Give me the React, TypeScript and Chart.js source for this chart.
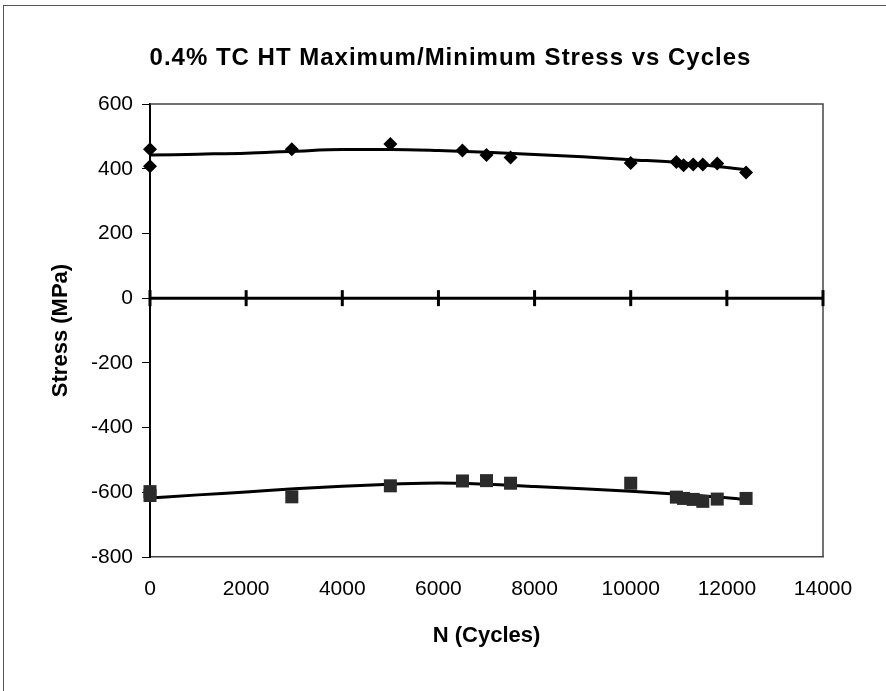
import React, { useEffect, useRef } from 'react';
import { Chart, registerables } from 'chart.js';

Chart.register(...registerables);

const TITLE = '0.4% TC HT Maximum/Minimum Stress vs Cycles';
const X_TITLE = 'N (Cycles)';
const Y_TITLE = 'Stress (MPa)';

const xTicks = [0, 2000, 4000, 6000, 8000, 10000, 12000, 14000];
const yTicks = [-800, -600, -400, -200, 0, 200, 400, 600];

// Maximum stress (diamonds)
const maxN = [0, 0, 2950, 5000, 6500, 7000, 7500, 10000, 10950, 11100, 11300, 11500, 11800, 12400];
const maxStress = [460, 408, 460, 476, 456, 442, 435, 418, 421, 411, 413, 413, 416, 388];

// Minimum stress (squares)
const minN = [0, 0, 2950, 5000, 6500, 7000, 7500, 10000, 10950, 11100, 11300, 11500, 11800, 12400];
const minStress = [-598, -610, -614, -580, -565, -564, -572, -572, -615, -619, -622, -628, -621, -619];

// Trend lines
const trendN = [0, 1000, 2000, 3000, 4000, 5000, 6000, 7000, 8000, 9000, 10000, 11000, 12000, 12400];
const maxTrend = [442, 445, 448, 454, 459, 459, 456, 451, 444, 437, 428, 419, 404, 397];
const minTrend = [-618, -608, -599, -589, -581, -575, -571, -575, -582, -589, -597, -606, -617, -623];

const FONT = '"Liberation Sans", Arial, Helvetica, sans-serif';

const toPts = (xs: number[], ys: number[]) => xs.map((x, i) => ({ x, y: ys[i] }));

const decorPlugin = {
  id: 'decor',
  beforeDatasetsDraw(chart: any) {
    const { ctx, chartArea: a, scales } = chart;
    const x = scales.x;
    const y = scales.y;
    ctx.save();
    // top & right plot border
    ctx.strokeStyle = '#444';
    ctx.lineWidth = 1.5;
    ctx.beginPath();
    ctx.moveTo(a.left, a.top);
    ctx.lineTo(a.right, a.top);
    ctx.lineTo(a.right, a.bottom);
    ctx.stroke();
    // zero axis with crossing tick marks
    const y0 = y.getPixelForValue(0);
    ctx.strokeStyle = '#000';
    ctx.lineWidth = 3;
    ctx.beginPath();
    ctx.moveTo(x.getPixelForValue(xTicks[0]), y0);
    ctx.lineTo(x.getPixelForValue(xTicks[xTicks.length - 1]), y0);
    ctx.stroke();
    for (const t of xTicks) {
      const px = x.getPixelForValue(t);
      ctx.beginPath();
      ctx.moveTo(px, y0 - 8);
      ctx.lineTo(px, y0 + 8);
      ctx.stroke();
    }
    ctx.restore();
  },
  afterDraw(chart: any) {
    const { ctx, chartArea: a } = chart;
    ctx.save();
    ctx.fillStyle = '#000';
    ctx.font = 'bold 24px ' + FONT;
    (ctx as any).letterSpacing = '1px';
    ctx.textAlign = 'center';
    ctx.textBaseline = 'alphabetic';
    ctx.fillText(TITLE, (a.left + a.right) / 2 - 36, 65);
    ctx.restore();
  },
};

export default function App() {
  const canvasRef = useRef<HTMLCanvasElement | null>(null);

  useEffect(() => {
    const canvas = canvasRef.current;
    if (!canvas) return;
    const chart = new Chart(canvas, {
      type: 'scatter',
      data: {
        datasets: [
          {
            label: 'Maximum',
            data: toPts(maxN, maxStress),
            pointStyle: 'rectRot',
            pointRadius: 7,
            pointBackgroundColor: '#000',
            pointBorderColor: '#000',
            pointBorderWidth: 0,
            showLine: false,
            clip: false,
          },
          {
            label: 'Minimum',
            data: toPts(minN, minStress),
            pointStyle: 'rect',
            pointRadius: 9.2,
            pointBackgroundColor: '#2b2b2b',
            pointBorderColor: '#2b2b2b',
            pointBorderWidth: 0,
            showLine: false,
            clip: false,
          },
          {
            label: 'Max trend',
            data: toPts(trendN, maxTrend),
            showLine: true,
            borderColor: '#000',
            borderWidth: 3,
            pointRadius: 0,
            tension: 0.4,
            cubicInterpolationMode: 'monotone',
            clip: false,
          },
          {
            label: 'Min trend',
            data: toPts(trendN, minTrend),
            showLine: true,
            borderColor: '#000',
            borderWidth: 3,
            pointRadius: 0,
            tension: 0.4,
            cubicInterpolationMode: 'monotone',
            clip: false,
          },
        ],
      } as any,
      options: {
        animation: false,
        responsive: false,
        maintainAspectRatio: false,
        layout: { padding: { top: 104, right: 63, bottom: 0, left: 0 } },
        plugins: {
          legend: { display: false },
          title: { display: false },
          tooltip: { enabled: false },
        },
        scales: {
          x: {
            type: 'linear',
            min: xTicks[0],
            max: xTicks[xTicks.length - 1],
            afterBuildTicks: (s: any) => {
              s.ticks = xTicks.map((v) => ({ value: v }));
            },
            afterFit: (s: any) => {
              s.height = 134;
            },
            grid: { display: true, drawOnChartArea: false, drawTicks: false, tickLength: 0 },
            border: { display: true, color: '#444', width: 1.5 },
            ticks: {
              color: '#000',
              padding: 20,
              maxRotation: 0,
              autoSkip: false,
              font: { family: FONT, size: 21 },
              callback: (v: any) => String(v),
            },
            title: {
              display: true,
              text: X_TITLE,
              color: '#000',
              font: { family: FONT, size: 22, weight: 'bold' },
              padding: { top: 0, bottom: 42 },
            },
          },
          y: {
            type: 'linear',
            min: yTicks[0],
            max: yTicks[yTicks.length - 1],
            afterBuildTicks: (s: any) => {
              s.ticks = yTicks.map((v) => ({ value: v }));
            },
            afterFit: (s: any) => {
              s.width = 150;
            },
            grid: {
              display: true,
              drawOnChartArea: false,
              drawTicks: true,
              tickLength: 8,
              color: '#000',
              lineWidth: 1,
            },
            border: { display: true, color: '#000', width: 2 },
            ticks: {
              color: '#000',
              padding: 9,
              autoSkip: false,
              font: { family: FONT, size: 21 },
              callback: (v: any) => String(v),
            },
            title: {
              display: true,
              text: Y_TITLE,
              color: '#000',
              font: { family: FONT, size: 22, weight: 'bold' },
              padding: { top: 48, bottom: 0 },
            },
          },
        },
      } as any,
      plugins: [decorPlugin],
    });
    return () => chart.destroy();
  }, []);

  return (
    <div
      style={{
        position: 'fixed',
        left: 0,
        top: 0,
        width: 886,
        height: 691,
        overflow: 'hidden',
        background: '#fff',
      }}
    >
      <div
        style={{
          position: 'absolute',
          left: 3,
          top: 5,
          width: 950,
          height: 750,
          border: '1.5px solid #555',
          pointerEvents: 'none',
        }}
      />
      <canvas
        ref={canvasRef}
        width={886}
        height={691}
        style={{ position: 'absolute', left: 0, top: 0, width: 886, height: 691 }}
      />
    </div>
  );
}
